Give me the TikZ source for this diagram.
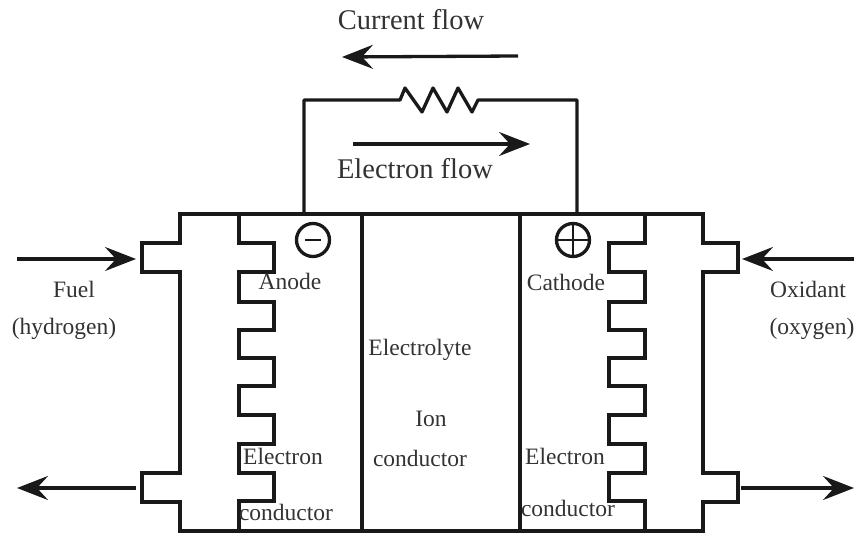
\documentclass[tikz,border=0pt]{standalone}
\usepackage{fontspec}
\setmainfont{Liberation Serif}
\usetikzlibrary{positioning,arrows.meta}
\begin{document}
\begin{tikzpicture}[
  x=1pt, y=-1pt,
  wire/.style={line width=3.3pt, line join=miter, black!90},
  arrow/.style={wire, -{Stealth[length=31pt, width=24pt, inset=11pt]}},
  lab/.style={inner sep=0pt, font=\fontsize{23.5}{25}\selectfont, text=black!80},
  biglab/.style={lab, font=\fontsize{28.5}{30}\selectfont},
  pole/.style={circle, draw=black!90, line width=3.3pt, minimum size=33pt, inner sep=0pt}
]
\useasboundingbox (0,0) rectangle (854,534);
% outer casing
\draw[wire] (180,214) -- (703,214) -- (703,243) -- (738,243) -- (738,272) -- (703,272)
  -- (703,473) -- (738,473) -- (738,502) -- (703,502) -- (703,531) -- (180,531)
  -- (180,502) -- (142,502) -- (142,473) -- (180,473) -- (180,272) -- (142,272)
  -- (142,243) -- (180,243) -- cycle;
% electrolyte walls
\draw[wire] (362,214) -- (362,531);
\draw[wire] (520,214) -- (520,531);
% anode comb
\draw[wire] (239,214) -- (239,243) -- (274,243) -- (274,272) -- (239,272) -- (239,302)
  -- (274,302) -- (274,330) -- (239,330) -- (239,358) -- (274,358) -- (274,386)
  -- (239,386) -- (239,415) -- (274,415) -- (274,444) -- (239,444) -- (239,473)
  -- (274,473) -- (274,501) -- (239,501) -- (239,531);
% cathode comb
\draw[wire] (645,214) -- (645,243) -- (609,243) -- (609,272) -- (645,272) -- (645,302)
  -- (609,302) -- (609,330) -- (645,330) -- (645,358) -- (609,358) -- (609,386)
  -- (645,386) -- (645,415) -- (609,415) -- (609,444) -- (645,444) -- (645,473)
  -- (609,473) -- (609,501) -- (645,501) -- (645,531);
% external circuit
\draw[wire, line join=round] (304,214) -- (304,100) -- (400,100) -- (405,88) -- (422,112) -- (433,88)
  -- (447,112) -- (458,88) -- (472,112) -- (478,100) -- (577,100) -- (577,214);
% poles
\node[pole] (minus) at (313,240) {};
\node[pole] (plus) at (573,240) {};
\draw[wire, line width=2.4pt] ([xshift=-8pt]minus.center) -- ([xshift=8pt]minus.center);
\draw[wire, line width=2.4pt] (plus.west) -- (plus.east);
\draw[wire, line width=2.4pt] (plus.north) -- (plus.south);
% flow arrows
\coordinate (curA) at (518,56);
\coordinate (curB) at (342,57);
\coordinate (eleA) at (353,144);
\coordinate (eleB) at (530,144);
\coordinate (fuelA) at (17,259);
\coordinate (fuelB) at (136,259);
\coordinate (exhA) at (136,488);
\coordinate (exhB) at (17,488);
\coordinate (oxA) at (854,259);
\coordinate (oxB) at (742,259);
\coordinate (outA) at (741,488);
\coordinate (outB) at (854,488);
\draw[arrow] (curA) -- (curB);
\draw[arrow] (eleA) -- (eleB);
\draw[arrow] (fuelA) -- (fuelB);
\draw[arrow] (exhA) -- (exhB);
\draw[arrow] (oxA) -- (oxB);
\draw[arrow] (outA) -- (outB);
% labels
\node[biglab] (current) at (411,20) {Current flow};
\node[biglab] (electron) at (415,169) {Electron flow};
\node[lab] (fuel) at (74,289) {Fuel};
\node[lab] (hydrogen) at (64,329) {(hydrogen)};
\node[lab] (oxidant) at (808,289) {Oxidant};
\node[lab] (oxygen) at (812,329) {(oxygen)};
\node[lab] (anode) at (290,281) {Anode};
\node[lab] (cathode) at (566,282) {Cathode};
\node[lab] (electrolyte) at (420,350) {Electrolyte};
\node[lab] (ion) at (431,419) {Ion};
\node[lab] (ioncond) at (420,458) {conductor};
\node[lab] (elecL) at (283,456) {Electron};
\node[lab] (condL) at (286,512) {conductor};
\node[lab] (elecR) at (565,456) {Electron};
\node[lab] (condR) at (568,508) {conductor};
\end{tikzpicture}
\end{document}
